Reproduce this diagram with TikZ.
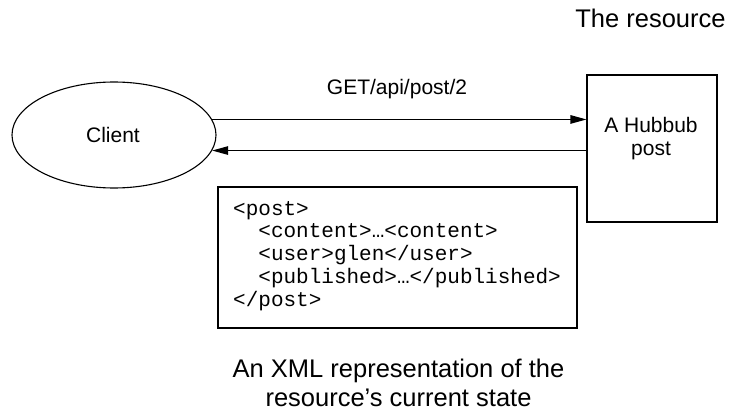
\documentclass[tikz,border=0pt]{standalone}
\usepackage{fontspec}
\setmainfont{Liberation Sans}
\setmonofont{Liberation Mono}
\usetikzlibrary{shapes.geometric,arrows.meta}
\tikzset{
  line/.style={draw=black,line width=1.1pt},
  arr/.style={line,-{Triangle[length=16pt,width=8.5pt]}},
  lbl/.style={font=\fontsize{21}{23}\selectfont,inner sep=0pt,text=black},
  biglbl/.style={font=\fontsize{25.5}{28.3}\selectfont,inner sep=0pt,text=black},
  codetext/.style={font=\fontsize{21}{22.75}\ttfamily,inner sep=0pt,align=left,text=black},
}
\begin{document}
\begin{tikzpicture}[x=1pt,y=-1pt]
\useasboundingbox (0,0) rectangle (731,412);
\node[line,ellipse,minimum width=204pt,minimum height=106pt,inner sep=0pt] (client) at (114,135) {};
\node[lbl,anchor=base] (clientlbl) at (113,142.5) {Client};
\node[line,rectangle,minimum width=130pt,minimum height=147pt,inner sep=0pt] (res) at (652,148.5) {};
\node[lbl,anchor=base,align=center] (restext) at (651,155) {A Hubbub\\post};
\node[biglbl,anchor=base] (restitle) at (650.5,28) {The resource};
\draw[arr] (client.9.6) -- (client.9.6 -| res.west) coordinate (req);
\draw[arr] (client.-9.6 -| res.west) coordinate (resp) -- (client.-9.6);
\node[lbl,anchor=base] (getlbl) at (397,95) {GET/api/post/2};
\node[line,rectangle,minimum width=359pt,minimum height=141pt,inner sep=0pt] (codebox) at (397.5,257.5) {};
\node[codetext,anchor=base west] (code) at (233,306) {<post>\\
\hspace*{25.2pt}<content>…<content>\\
\hspace*{25.2pt}<user>glen</user>\\
\hspace*{25.2pt}<published>…</published>\\
</post>};
\node[biglbl,anchor=base,align=center] (caption) at (398.5,406) {An XML representation of the\\resource’s current state};
\end{tikzpicture}
\end{document}
